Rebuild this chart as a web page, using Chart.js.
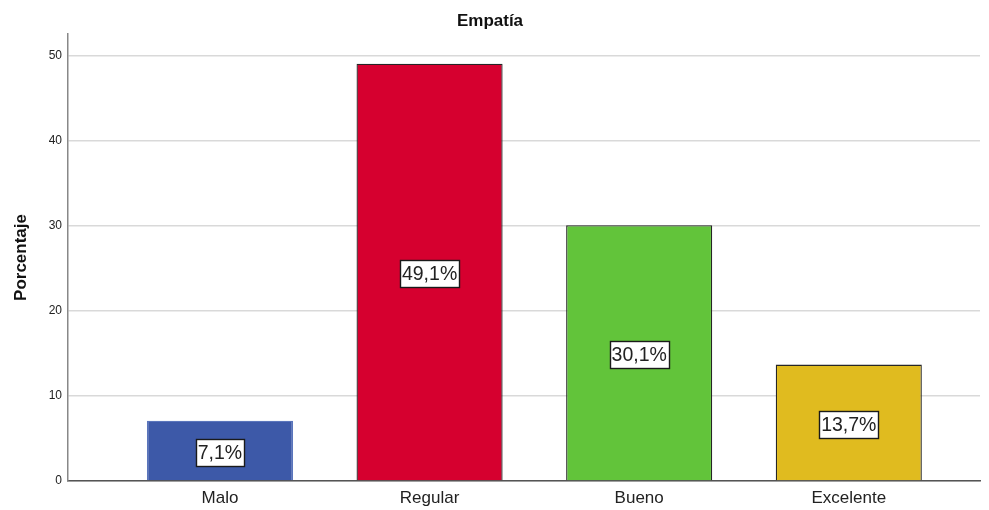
<!DOCTYPE html>
<html>
<head>
<meta charset="utf-8">
<script src="https://cdn.jsdelivr.net/npm/chart.js@4"></script>
<style>
  html, body { margin: 0; padding: 0; background: #fff; }
  #wrap { width: 989px; height: 510px; }
</style>
</head>
<body>
<div id="wrap"><canvas id="cEmp"></canvas></div>
<script>
/* Empatía — porcentaje por categoría */

const categorias = ['Malo', 'Regular', 'Bueno', 'Excelente'];
const porcentajes = [7.1, 49.1, 30.1, 13.7];
const colores = ['#3d59a8', '#d6002f', '#62c43a', '#e0bb1f'];
const bordes = ['#5a75bc', '#262626', '#262626', '#262626'];
const yTicks = [0, 10, 20, 30, 40, 50];

const FONT = "'Liberation Sans', Arial, sans-serif";

// etiqueta en caja blanca centrada en cada barra
const cajaValor = {
  id: 'cajaValor',
  afterDatasetsDraw(chart) {
    const ctx = chart.ctx;
    const meta = chart.getDatasetMeta(0);
    ctx.save();
    ctx.font = '19.5px ' + FONT;
    ctx.textAlign = 'center';
    ctx.textBaseline = 'middle';
    meta.data.forEach((bar, i) => {
      const txt = porcentajes[i].toFixed(1).replace('.', ',') + '%';
      const w = Math.round(ctx.measureText(txt).width + 4);
      const h = 27;
      const cy = (bar.y + bar.base) / 2 + 2;
      const x0 = Math.round(bar.x - w / 2) + 0.5, y0 = Math.round(cy - h / 2) + 0.5;
      ctx.fillStyle = '#fff';
      ctx.fillRect(x0, y0, w, h);
      ctx.strokeStyle = '#1a1a1a';
      ctx.lineWidth = 1.4;
      ctx.strokeRect(x0, y0, w, h);
      ctx.fillStyle = '#222';
      ctx.fillText(txt, bar.x, cy + 1);
    });
    ctx.restore();
  }
};

const puntos = porcentajes.map((v, i) => ({ x: i + 1, y: v }));

new Chart(document.getElementById('cEmp').getContext('2d'), {
  type: 'bar',
  data: {
    datasets: [{
      data: puntos,
      backgroundColor: colores,
      borderColor: bordes,
      borderWidth: 1.3,
      barPercentage: 0.697,
      categoryPercentage: 1
    }]
  },
  options: {
    responsive: true,
    maintainAspectRatio: false,
    animation: false,
    layout: { padding: { left: 0, right: 9, top: 0, bottom: 0 } },
    plugins: {
      legend: { display: false },
      tooltip: { enabled: false },
      title: {
        display: true,
        text: 'Empatía',
        color: '#111',
        font: { family: FONT, size: 17, weight: 'bold' },
        padding: { top: 11, bottom: 2.6 }
      }
    },
    scales: {
      x: {
        type: 'linear',
        offset: false,
        min: 0.275,
        max: 4.626,
        afterBuildTicks: s => { s.ticks = categorias.map((c, i) => ({ value: i + 1 })); },
        afterFit: s => { s.height = 29; },
        ticks: {
          callback: v => categorias[v - 1] || '',
          color: '#222',
          font: { family: FONT, size: 17 },
          padding: 7,
          autoSkip: false,
          maxRotation: 0
        },
        grid: { display: false, drawTicks: false, offset: false },
        border: { color: '#555', width: 1.5 }
      },
      y: {
        min: 0,
        max: 52.6,
        afterBuildTicks: s => { s.ticks = yTicks.map(v => ({ value: v })); },
        afterFit: s => { s.width = 68; },
        ticks: {
          color: '#222',
          font: { family: FONT, size: 12 },
          padding: 6
        },
        grid: { color: '#d9d9d9', lineWidth: 1.5, drawTicks: false },
        border: { color: '#888', width: 1.5 },
        title: {
          display: true,
          text: 'Porcentaje',
          color: '#111',
          font: { family: FONT, size: 17, weight: 'bold' },
          padding: { top: 11, bottom: 0 }
        }
      }
    }
  },
  plugins: [cajaValor]
});
</script>
</body>
</html>
